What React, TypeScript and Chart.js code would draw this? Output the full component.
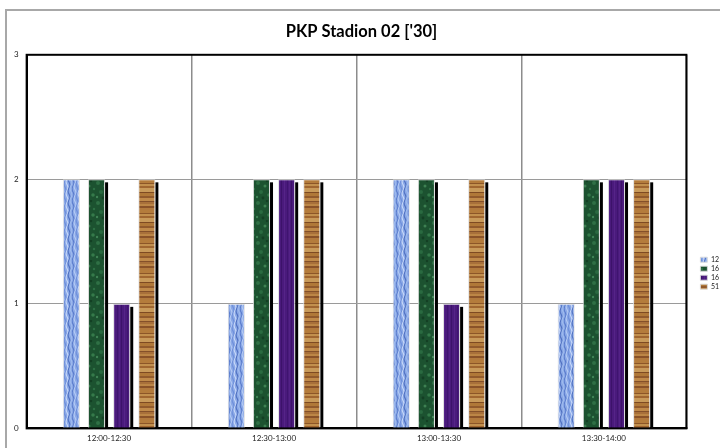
import React, { useEffect, useRef } from "react";
import { Chart, registerables } from "chart.js";

Chart.register(...registerables);

const categories = ["12:00-12:30", "12:30-13:00", "13:00-13:30", "13:30-14:00"];
const seriesNames = ["12", "16", "16", "51"];
const series12 = [2, 1, 2, 1];
const series16a = [2, 2, 2, 2];
const series16b = [1, 2, 1, 2];
const series51 = [2, 2, 2, 2];
const yTicks = [0, 1, 2, 3];
const chartTitle = "PKP Stadion 02 ['30]";

function canvasOf(w: number, h: number) {
  const c = document.createElement("canvas");
  c.width = w;
  c.height = h;
  return [c, c.getContext("2d") as CanvasRenderingContext2D] as const;
}

function bluePattern() {
  const [c, g] = canvasOf(12, 24);
  g.fillStyle = "#8aa8e6";
  g.fillRect(0, 0, 12, 24);
  const cols = ["#5a7ccc", "#b4caf4", "#6e8fda", "#c8d8f8", "#4f70c0", "#a0bcee"];
  for (let i = 0; i < 6; i++) {
    g.strokeStyle = cols[i];
    g.lineWidth = 1.1;
    g.beginPath();
    for (let y = 0; y <= 24; y++) {
      const x = i * 2 + 1 + Math.sin((y / 24) * Math.PI * 4 + i * 1.3) * 0.9;
      if (y === 0) g.moveTo(x, y);
      else g.lineTo(x, y);
    }
    g.stroke();
  }
  return g.createPattern(c, "repeat") as CanvasPattern;
}

function greenPattern() {
  const [c, g] = canvasOf(16, 20);
  g.fillStyle = "#1c5230";
  g.fillRect(0, 0, 16, 20);
  const spots: [number, number, number, string][] = [
    [2, 3, 2, "#2f7045"], [9, 6, 1.5, "#3d8052"], [5, 12, 2, "#2a6a40"],
    [13, 15, 1.8, "#357a4a"], [1, 17, 1.2, "#3f8456"], [11, 1, 1.2, "#143f24"],
    [7, 18, 1.4, "#143f24"], [14, 9, 1.2, "#2f7045"],
  ];
  for (const [x, y, r, col] of spots) {
    g.fillStyle = col;
    g.beginPath();
    g.arc(x, y, r, 0, Math.PI * 2);
    g.fill();
  }
  return g.createPattern(c, "repeat") as CanvasPattern;
}

function purplePattern() {
  const [c, g] = canvasOf(10, 20);
  g.fillStyle = "#4a1a7c";
  g.fillRect(0, 0, 10, 20);
  const lines: [number, string][] = [[1, "#3c126a"], [4, "#552488"], [7, "#3f1470"], [9, "#532286"]];
  for (const [x, col] of lines) {
    g.fillStyle = col;
    g.fillRect(x, 0, 1, 20);
  }
  return g.createPattern(c, "repeat") as CanvasPattern;
}

function woodPattern() {
  const [c, g] = canvasOf(10, 30);
  const stripes: [number, string][] = [
    [3, "#b47c3c"], [1, "#8c5628"], [2, "#c2904e"], [2, "#a06630"],
    [4, "#c89a5a"], [1, "#7e4a22"], [3, "#b07838"], [2, "#925a2c"],
    [3, "#c08a4a"], [1, "#84502a"], [2, "#a8703a"], [2, "#bc8646"],
    [2, "#8a5228"], [2, "#b27a3e"],
  ];
  let y = 0;
  for (const [h, col] of stripes) {
    g.fillStyle = col;
    g.fillRect(0, y, 10, h);
    y += h;
  }
  return g.createPattern(c, "repeat") as CanvasPattern;
}

const shadowPlugin = {
  id: "barShadow",
  beforeDatasetsDraw(chart: any) {
    const ctx = chart.ctx;
    ctx.save();
    ctx.fillStyle = "#000";
    for (let d = 1; d < chart.data.datasets.length; d++) {
      const meta = chart.getDatasetMeta(d);
      for (const el of meta.data) {
        const p = el.getProps(["x", "y", "base", "width"], true);
        ctx.fillRect(p.x + p.width / 2, p.y + 3, 3, p.base - p.y - 3);
      }
    }
    ctx.restore();
  },
};

const frameBorderPlugin = {
  id: "frameBorder",
  afterDatasetsDraw(chart: any) {
    const { ctx, chartArea } = chart;
    ctx.save();
    ctx.strokeStyle = "#000";
    ctx.lineWidth = 2;
    ctx.strokeRect(chartArea.left, chartArea.top, chartArea.right - chartArea.left, chartArea.bottom - chartArea.top);
    ctx.restore();
  },
};

const legendShiftPlugin = {
  id: "legendShift",
  afterLayout(chart: any) {
    const lg = chart.legend;
    if (!lg) return;
    const dx = 12;
    lg.left += dx;
    lg.right += dx;
  },
};

export default function App() {
  const ref = useRef<HTMLCanvasElement>(null);
  useEffect(() => {
    const fills = [bluePattern(), greenPattern(), purplePattern(), woodPattern()];
    const values = [series12, series16a, series16b, series51];
    const chart = new Chart(ref.current as HTMLCanvasElement, {
      type: "bar",
      data: {
        labels: categories,
        datasets: values.map((v, i) => ({
          label: seriesNames[i],
          data: v,
          backgroundColor: fills[i],
          borderColor: "rgba(220,220,220,0.9)",
          borderWidth: 1,
          categoryPercentage: 0.61,
          barPercentage: 0.68,
        })),
      },
      options: {
        responsive: false,
        animation: false,
        layout: { padding: { left: 6, right: 3, top: 0, bottom: 0 } },
        plugins: {
          title: {
            display: true,
            text: chartTitle,
            color: "#000",
            font: { family: "Lato", size: 16.5, weight: "bold" },
            padding: { top: 22, bottom: 13 },
          },
          legend: {
            position: "right",
            title: { display: true, text: "", padding: { top: 84, bottom: 0 } },
            labels: {
              font: { family: "Lato", size: 7 },
              color: "#222",
              boxWidth: 7,
              boxHeight: 5,
              padding: 2,
            },
          },
          tooltip: { enabled: false },
        },
        scales: {
          x: {
            grid: { offset: true, color: "#8c8c8c", lineWidth: 1.5, drawTicks: false },
            border: { color: "#000", width: 2 },
            ticks: { font: { family: "Lato", size: 8 }, color: "#222", padding: 5 },
          },
          y: {
            min: 0,
            max: 3,
            afterBuildTicks: (s: any) => {
              s.ticks = yTicks.map((v) => ({ value: v }));
            },
            grid: { color: "#9a9a9a", lineWidth: 1, drawTicks: false },
            border: { color: "#000", width: 2 },
            ticks: { font: { family: "Lato", size: 8 }, color: "#222", padding: 8 },
          },
        },
      },
      plugins: [shadowPlugin, frameBorderPlugin, legendShiftPlugin],
    });
    return () => chart.destroy();
  }, []);
  return (
    <div style={{ position: "fixed", left: 0, top: 0, width: 720, height: 448, background: "#fff", overflow: "hidden" }}>
      <div
        style={{
          position: "absolute",
          left: 5,
          top: 9,
          width: 740,
          height: 460,
          border: "2px solid #a8a8a8",
          boxSizing: "border-box",
        }}
      />
      <canvas ref={ref} width={720} height={448} style={{ position: "absolute", left: 0, top: 0, width: 720, height: 448 }} />
    </div>
  );
}
